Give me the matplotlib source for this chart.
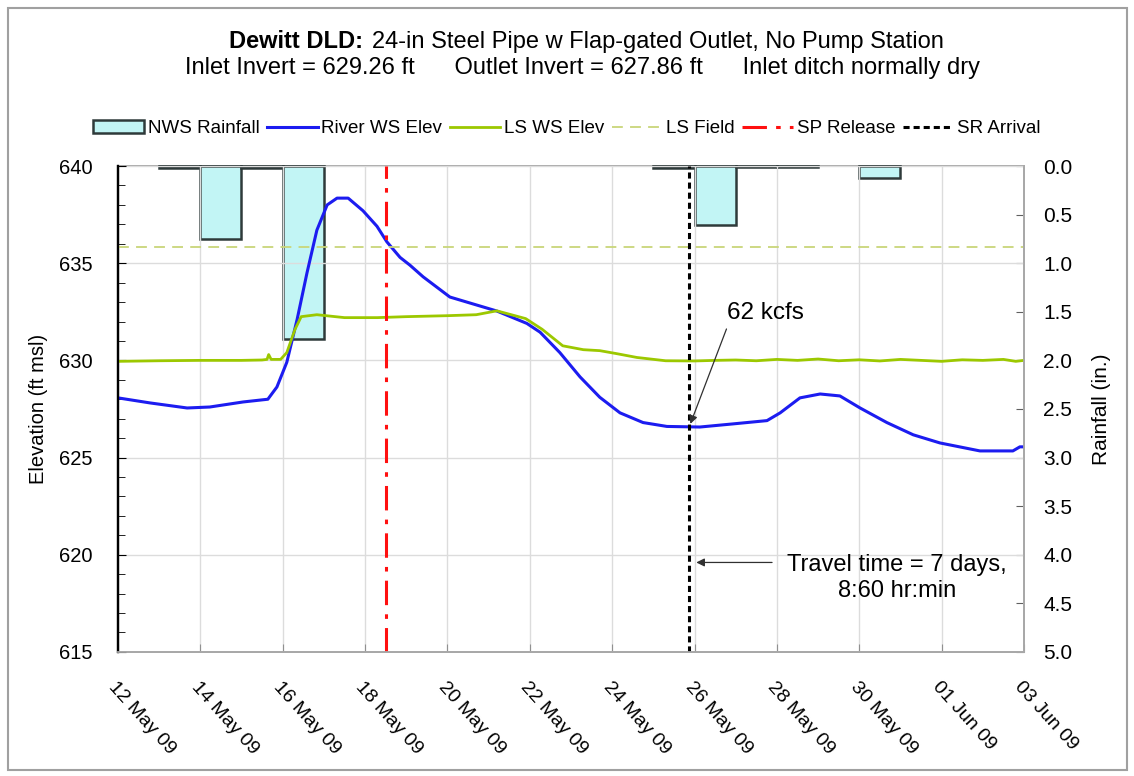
import matplotlib.pyplot as plt
import matplotlib.dates as mdates
import numpy as np
import pandas as pd
from matplotlib.patches import Rectangle

plt.rcParams["font.family"] = ["Liberation Sans", "DejaVu Sans"]

start = pd.Timestamp("2009-05-12")
end = pd.Timestamp("2009-06-03")

# River water surface elevation (ft msl), time as days after 12 May 09 00:00
river_days = [0.0, 0.78, 1.68, 2.23, 3.04, 3.64, 3.86, 4.10, 4.35, 4.59,
              4.83, 5.08, 5.32, 5.59, 5.95, 6.29, 6.53, 6.85, 7.09, 7.41,
              8.06, 8.55, 9.20, 9.93, 10.25, 10.73, 11.22, 11.70, 12.19,
              12.75, 13.33, 14.13, 14.93, 15.76, 16.08, 16.56, 17.05, 17.53,
              18.02, 18.67, 19.31, 19.96, 20.93, 21.73, 21.90, 22.0]
river_elev = [628.07, 627.81, 627.55, 627.6, 627.86, 628.0, 628.63, 629.9,
              632.1, 634.5, 636.7, 638.0, 638.35, 638.35, 637.7, 636.9,
              636.1, 635.3, 634.9, 634.3, 633.26, 632.95, 632.54, 631.9,
              631.45, 630.4, 629.15, 628.1, 627.3, 626.8, 626.6, 626.57,
              626.73, 626.9, 627.3, 628.07, 628.27, 628.17, 627.55, 626.8,
              626.17, 625.75, 625.34, 625.34, 625.55, 625.55]

# Landside water surface elevation (ft msl)
ls_days = [0.0, 1.0, 2.0, 3.0, 3.5, 3.62, 3.66, 3.72, 3.95, 4.1, 4.3, 4.45,
           4.83, 5.5, 6.3, 7.0, 8.0, 8.7, 9.2, 9.9, 10.3, 10.8, 11.3, 11.7,
           12.1, 12.6, 13.3, 14.0, 14.5, 15.0, 15.5, 16.0, 16.5, 17.0, 17.5,
           18.0, 18.5, 19.0, 19.5, 20.0, 20.5, 21.0, 21.5, 21.8, 22.0]
ls_elev = [629.95, 629.98, 630.0, 630.0, 630.02, 630.05, 630.3, 630.05,
           630.05, 630.4, 631.6, 632.25, 632.35, 632.2, 632.2, 632.25,
           632.3, 632.35, 632.55, 632.15, 631.6, 630.75, 630.55, 630.5,
           630.35, 630.15, 629.98, 629.97, 630.0, 630.02, 629.98, 630.05,
           630.0, 630.07, 629.98, 630.03, 629.97, 630.05, 630.0, 629.95,
           630.03, 630.0, 630.05, 629.95, 630.0]

# Daily NWS rainfall (in.), trace days show as a line at the top
rain_dates = ["2009-05-13", "2009-05-14", "2009-05-15", "2009-05-16",
              "2009-05-25", "2009-05-26", "2009-05-27", "2009-05-28",
              "2009-05-30"]
rain_in = [0.02, 0.75, 0.02, 1.78, 0.02, 0.61, 0.01, 0.01, 0.12]

ls_field_elev = 635.85
sp_release = pd.Timestamp("2009-05-18 12:00")
sr_arrival = sp_release + pd.Timedelta(days=7, hours=9)
arrival_elev = 626.6

river_t = start + pd.to_timedelta(river_days, unit="D")
ls_t = start + pd.to_timedelta(ls_days, unit="D")


def day(d):
    return mdates.date2num(start + pd.Timedelta(days=d))


fig = plt.figure(figsize=(11.34, 7.76), dpi=100)
ax1 = fig.add_axes([0.104, 0.160, 0.799, 0.626])
ax2 = ax1.twinx()

# rainfall hangs from the top on the inverted right axis
ax2.bar(pd.to_datetime(rain_dates), rain_in, width=1, align="edge",
        color="#c2f5f5", edgecolor="#2e3a3a", linewidth=1.8,
        label="NWS Rainfall", clip_on=False, zorder=3)
ax2.set_ylim(5, 0)
ax2.set_yticks(np.arange(0, 5.01, 0.5))
ax2.set_yticklabels([f"{v:.1f}" for v in np.arange(0, 5.01, 0.5)])
ax2.set_ylabel("Rainfall (in.)", fontsize=15, labelpad=14)

# elevation lines drawn above the bars
ax1.set_zorder(ax2.get_zorder() + 1)
ax1.patch.set_visible(False)

ax1.plot(river_t, river_elev, color="#1c1cf0", lw=2.2, label="River WS Elev")
ax1.plot(ls_t, ls_elev, color="#9cc800", lw=2.0, label="LS WS Elev")
ax1.axhline(ls_field_elev, color="#c9d67a", lw=1.3, ls=(0, (6, 4)),
            label="LS Field")
ax1.axvline(sp_release, color="#ff1010", lw=2.2, ls=(0, (8, 3, 1.5, 3)),
            label="SP Release")
ax1.axvline(sr_arrival, color="black", lw=2.2, ls=(0, (2, 1.3)),
            label="SR Arrival")

ax1.set_xlim(start, end)
ax1.set_ylim(615, 640)
ax1.set_yticks(np.arange(615, 641, 5))
ax1.set_yticks(np.arange(615, 641, 1), minor=True)
ax1.set_xticks(pd.date_range(start, end, freq="2D"))
ax1.xaxis.set_major_formatter(mdates.DateFormatter("%d %b %y"))
ax1.set_ylabel("Elevation (ft msl)", fontsize=14.5, labelpad=8)
ax1.grid(True, color="#dcdcdc", lw=1.0)
# no gridlines on the plot edges
for t in ax1.yaxis.get_major_ticks():
    if t.get_loc() in (615, 640):
        t.gridline.set_visible(False)

ax1.tick_params(axis="y", which="both", direction="in", labelsize=14.5,
                color="black", pad=18)
ax1.tick_params(axis="y", which="major", length=6)
ax1.tick_params(axis="y", which="minor", length=5)
ax1.tick_params(axis="x", direction="in", length=6, color="#909090",
                labelsize=14, pad=19)
ax2.tick_params(axis="y", direction="in", length=6, color="#606060",
                labelsize=15, pad=14)
for lab in ax1.get_xticklabels():
    lab.set_rotation(-48)
    lab.set_ha("left")
    lab.set_va("top")
    lab.set_rotation_mode("anchor")

for ax in (ax1, ax2):
    for side in ("top", "right", "bottom"):
        ax.spines[side].set_color("#a8a8a8")
        ax.spines[side].set_linewidth(1.3)
    ax.spines["left"].set_color("black")
    ax.spines["left"].set_linewidth(1.6)
ax1.spines["top"].set_visible(False)

# annotations
ax1.annotate("", xy=(mdates.date2num(sr_arrival), arrival_elev),
             xytext=(day(14.8), 631.75),
             arrowprops=dict(arrowstyle="-|>", color="#303030", lw=0.9,
                             mutation_scale=12))
ax1.text(day(14.78), 632.45, "62 kcfs", fontsize=17.5, ha="left",
         va="center")
ax1.annotate("", xy=(mdates.date2num(sr_arrival) + 0.1, 619.6),
             xytext=(day(15.95), 619.6),
             arrowprops=dict(arrowstyle="-|>", color="#303030", lw=0.9,
                             mutation_scale=12))
ax1.text(day(18.92), 618.8, "Travel time = 7 days,\n8:60 hr:min",
         fontsize=17, ha="center", va="center", linespacing=1.25)

# legend along the top
h2, l2 = ax2.get_legend_handles_labels()
h1, l1 = ax1.get_legend_handles_labels()
fig.legend(h2 + h1, l2 + l1, loc="center", bbox_to_anchor=(0.5, 0.834),
           ncol=6, frameon=False, fontsize=13.5, handlelength=2.7,
           handletextpad=0.2, columnspacing=0.4)

# two-line title, first part bold
fig.text(0.320, 0.946, "Dewitt DLD:", fontsize=17, fontweight="bold",
         ha="right", va="center")
fig.text(0.328, 0.946, "24-in Steel Pipe w Flap-gated Outlet, No Pump Station",
         fontsize=17, ha="left", va="center")
fig.text(0.514, 0.913,
         "Inlet Invert = 629.26 ft      Outlet Invert = 627.86 ft      "
         "Inlet ditch normally dry", fontsize=17, ha="center", va="center")

fig.patches.append(Rectangle((0.007, 0.008), 0.987, 0.982,
                             transform=fig.transFigure, fill=False,
                             edgecolor="#a0a0a0", lw=1.5))

plt.savefig("out.png", dpi=100)
